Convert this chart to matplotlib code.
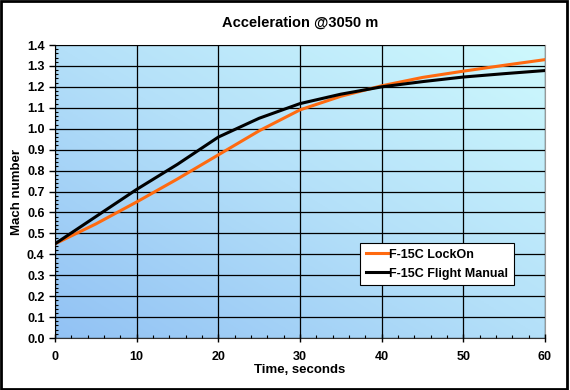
import numpy as np
import matplotlib.pyplot as plt
from matplotlib.colors import LinearSegmentedColormap
from matplotlib.patches import Rectangle
from matplotlib.ticker import MultipleLocator

plt.rcParams['font.family'] = ['Liberation Sans', 'DejaVu Sans']
plt.rcParams['font.weight'] = 'bold'

# data
time_s = [0, 5, 10, 15, 20, 25, 30, 35, 40, 45, 50, 55, 60]
lockon = [0.45, 0.545, 0.65, 0.76, 0.875, 0.99, 1.09, 1.155, 1.205, 1.245, 1.275, 1.303, 1.33]
manual = [0.45, 0.58, 0.71, 0.83, 0.96, 1.05, 1.12, 1.165, 1.2, 1.225, 1.247, 1.263, 1.278]

fig = plt.figure(figsize=(5.7, 3.9), dpi=100)
ax = fig.add_axes([0.0965, 0.1333, 0.8595, 0.7513])

# diagonal blue gradient background, lighter toward the top right
gx, gy = np.meshgrid(np.linspace(0, 1, 200), np.linspace(0, 1, 200))
grad = (gx + gy) / 2
cmap = LinearSegmentedColormap.from_list('bg', ['#92c2f4', '#b4e0f9', '#cef9fd'])
ax.imshow(grad, extent=[0, 60, 0, 1.4], origin='lower', aspect='auto', cmap=cmap, zorder=0)

ax.plot(time_s, lockon, color='#ff6a10', lw=2.2, label='F-15C LockOn', zorder=3)
ax.plot(time_s, manual, color='black', lw=2.2, label='F-15C Flight Manual', zorder=3)

ax.set_xlim(0, 60)
ax.set_ylim(0, 1.4)
ax.xaxis.set_major_locator(MultipleLocator(10))
ax.xaxis.set_minor_locator(MultipleLocator(2))
ax.yaxis.set_major_locator(MultipleLocator(0.1))
ax.yaxis.set_minor_locator(MultipleLocator(0.02))
ax.yaxis.set_major_formatter(plt.FormatStrFormatter('%.1f'))
ax.grid(True, which='major', color='black', lw=0.9, zorder=1)
ax.set_axisbelow(False)
ax.tick_params(which='major', length=4, width=1, labelsize=9, direction='out')
ax.tick_params(axis='x', which='major', direction='inout', length=6, pad=6)
ax.tick_params(which='minor', length=2, width=0.8, direction='in')

for side in ['top', 'right']:
    ax.spines[side].set_color('#999999')
for side in ['left', 'bottom']:
    ax.spines[side].set_color('#333333')

ax.set_xlabel('Time, seconds', fontsize=9.5, fontweight='bold', labelpad=1)
ax.set_ylabel('Mach number', fontsize=9.5, fontweight='bold', labelpad=3)
ax.set_title('Acceleration @3050 m', fontsize=10.5, fontweight='bold', pad=13)

leg = ax.legend(loc='upper left', bbox_to_anchor=(0.61, 0.345), fontsize=9,
                frameon=True, fancybox=False, edgecolor='black', framealpha=1,
                handlelength=1.8, handletextpad=0.1, borderpad=0.45, labelspacing=0.55)
leg.get_frame().set_linewidth(0.8)

fig.patches.append(Rectangle((0.002, 0.003), 0.993, 0.994, transform=fig.transFigure,
                             fill=False, edgecolor='black', lw=2))

fig.savefig('out.png', dpi=100)
